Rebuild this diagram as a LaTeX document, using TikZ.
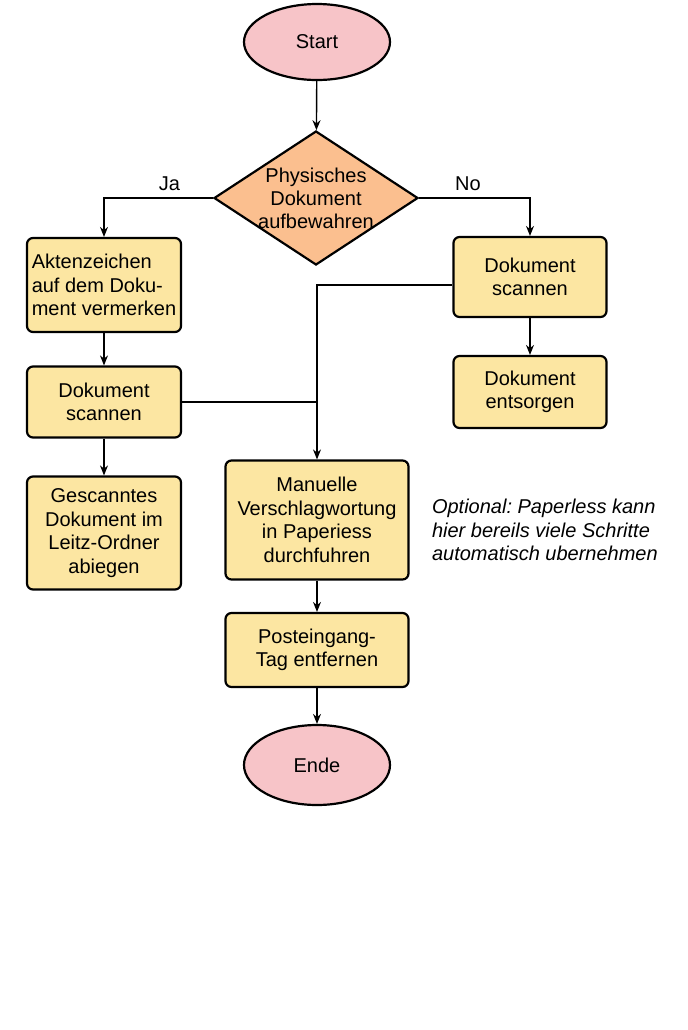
\documentclass[tikz,border=0pt]{standalone}
\usepackage{fontspec}
\setmainfont{Liberation Sans}
\frenchspacing
\usetikzlibrary{shapes.geometric,arrows.meta}
\definecolor{termpink}{HTML}{F7C4C8}
\definecolor{decpeach}{HTML}{FBBF8F}
\definecolor{stepyellow}{HTML}{FCE6A2}

\begin{document}
\begin{tikzpicture}[
  x=0.5pt, y=-0.5pt,
  font=\fontsize{10}{11.8}\selectfont,
  terminal/.style={draw, ellipse, line width=1.1pt, fill=termpink, minimum width=73pt, minimum height=38pt},
  decision/.style={draw, diamond, line width=1.1pt, fill=decpeach, align=center, inner sep=-4pt, aspect=1.5, minimum width=102pt, minimum height=67pt, font=\fontsize{10}{11.5}\selectfont},
  stepbox/.style={draw, rounded corners=3pt, line width=1.1pt, fill=stepyellow, align=center, inner sep=2pt},
  arrow/.style={-{Stealth[length=5pt,width=4pt]}, line width=0.7pt},
  line/.style={line width=0.7pt}
]
\useasboundingbox (0,0) rectangle (687,1030);

\node[terminal] (start) at (317,42) {Start};
\node[decision] (keep) at (316,198) {Physisches\\Dokument\\aufbewahren};

\node[stepbox, align=left, minimum width=77pt, minimum height=47pt] (mark) at (104,285) {Aktenzeichen\\auf dem Doku-\\ment vermerken};
\node[stepbox, minimum width=77pt, minimum height=35.5pt] (scanleft) at (104,402) {Dokument\\scannen};
\node[stepbox, minimum width=77pt, minimum height=56.5pt] (file) at (104,533) {Gescanntes\\Dokument im\\Leitz-Ordner\\abiegen};

\node[stepbox, minimum width=76.5pt, minimum height=40pt] (scanright) at (530,277) {Dokument\\scannen};
\node[stepbox, minimum width=76.5pt, minimum height=36pt] (dispose) at (530,392) {Dokument\\entsorgen};

\node[stepbox, minimum width=91.5pt, minimum height=59.5pt] (tagging) at (317,520) {Manuelle\\Verschlagwortung\\in Paperiess\\durchfuhren};
\node[stepbox, minimum width=91.5pt, minimum height=37pt] (inbox) at (317,650) {Posteingang-\\Tag entfernen};
\node[terminal, minimum height=40pt] (end) at (317,765) {Ende};

\node[anchor=west, align=left, font=\fontsize{10}{11.6}\selectfont\itshape] (hint) at (425,530) {Optional: Paperless kann\\hier bereils viele Schritte\\automatisch ubernehmen};

\draw[arrow] (start) -- (keep);
\draw[arrow] (keep.west) -| node[pos=0.2, above] {Ja} (mark);
\draw[arrow] (keep.east) -| node[pos=0.22, above] {No} (scanright);
\draw[arrow] (mark) -- (scanleft);
\draw[arrow] (scanleft) -- (file);
\draw[arrow] (scanright) -- (dispose);
\draw[arrow] ([yshift=-4pt]scanright.west) -| (tagging);
\draw[line] (scanleft.east) -- (scanleft.east -| tagging.north);
\draw[arrow] (tagging) -- (inbox);
\draw[arrow] (inbox) -- (end);
\end{tikzpicture}
\end{document}
